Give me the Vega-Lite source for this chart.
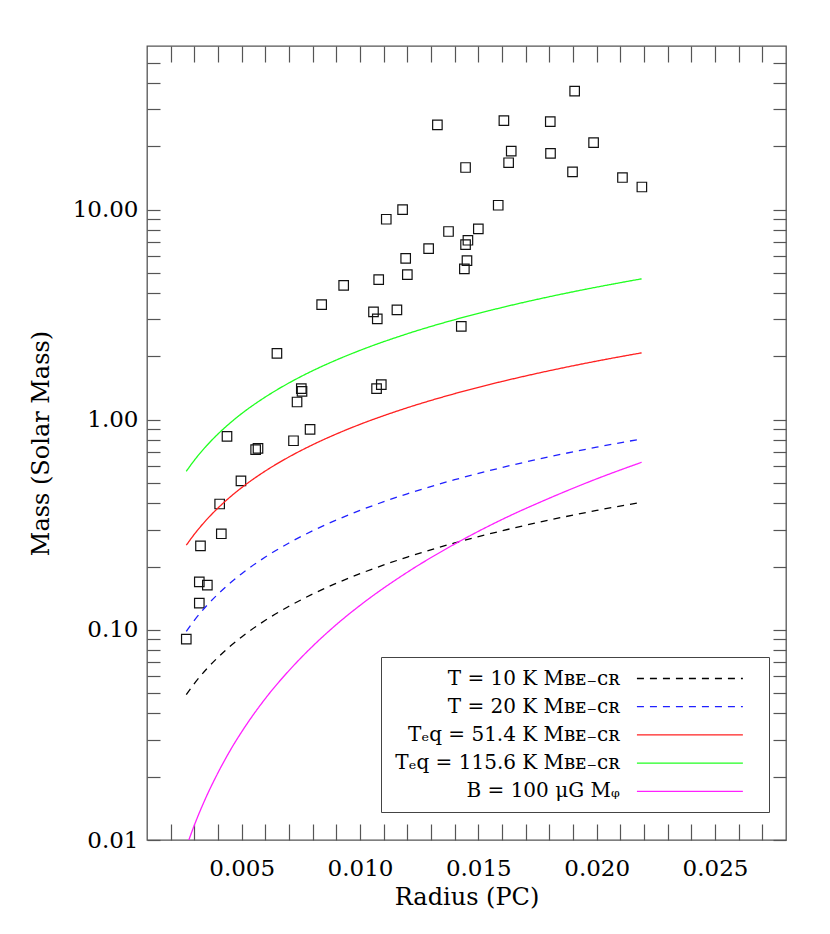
{
  "$schema": "https://vega.github.io/schema/vega-lite/v6.json",
  "width": 639,
  "height": 794,
  "autosize": {"type": "none"},
  "padding": {"left": 147, "top": 46, "right": 44, "bottom": 94},
  "background": "white",
  "config": {
    "font": "DejaVu Serif",
    "view": {"stroke": "#555555", "strokeWidth": 1.3},
    "axis": {"grid": false, "domain": false, "tickColor": "#555555", "tickWidth": 1.2, "labelColor": "#000000", "titleColor": "#000000", "labelFont": "DejaVu Serif", "titleFont": "DejaVu Serif", "titleFontWeight": "normal", "labelOverlap": false, "labelFlush": false}
  },
  "datasets": {
    "cores": [
      {"r": 0.01907, "m": 36.6}, {"r": 0.01327, "m": 25.3}, {"r": 0.01608, "m": 26.5}, {"r": 0.01804, "m": 26.2},
      {"r": 0.01987, "m": 20.8}, {"r": 0.01639, "m": 18.95}, {"r": 0.01805, "m": 18.5}, {"r": 0.01446, "m": 15.85},
      {"r": 0.01628, "m": 16.7}, {"r": 0.01898, "m": 15.1}, {"r": 0.02109, "m": 14.2}, {"r": 0.02191, "m": 12.8},
      {"r": 0.0118, "m": 10.0}, {"r": 0.01111, "m": 8.99}, {"r": 0.01584, "m": 10.48}, {"r": 0.01374, "m": 7.86},
      {"r": 0.015, "m": 8.09}, {"r": 0.01456, "m": 7.14}, {"r": 0.01446, "m": 6.81}, {"r": 0.0129, "m": 6.52},
      {"r": 0.01193, "m": 5.85}, {"r": 0.012, "m": 4.9}, {"r": 0.01452, "m": 5.71}, {"r": 0.01441, "m": 5.22},
      {"r": 0.01079, "m": 4.64}, {"r": 0.00931, "m": 4.36}, {"r": 0.00838, "m": 3.53}, {"r": 0.01057, "m": 3.26},
      {"r": 0.01073, "m": 3.02}, {"r": 0.01156, "m": 3.33}, {"r": 0.01428, "m": 2.78}, {"r": 0.00649, "m": 2.07},
      {"r": 0.00752, "m": 1.405}, {"r": 0.00755, "m": 1.364}, {"r": 0.00734, "m": 1.214}, {"r": 0.0109, "m": 1.468},
      {"r": 0.0107, "m": 1.405}, {"r": 0.00438, "m": 0.833}, {"r": 0.00789, "m": 0.899}, {"r": 0.00719, "m": 0.794},
      {"r": 0.00559, "m": 0.72}, {"r": 0.00569, "m": 0.73}, {"r": 0.00497, "m": 0.511}, {"r": 0.00407, "m": 0.397},
      {"r": 0.00414, "m": 0.2865}, {"r": 0.00326, "m": 0.251}, {"r": 0.00321, "m": 0.1693}, {"r": 0.00355, "m": 0.1633},
      {"r": 0.00321, "m": 0.134}, {"r": 0.00266, "m": 0.0903}
    ],
    "models": [
      {"s": "T = 10 K Mʙᴇ₋ᴄʀ", "r": 0.00266, "m": 0.0492}, {"s": "T = 10 K Mʙᴇ₋ᴄʀ", "r": 0.003, "m": 0.0555},
      {"s": "T = 10 K Mʙᴇ₋ᴄʀ", "r": 0.0035, "m": 0.0648}, {"s": "T = 10 K Mʙᴇ₋ᴄʀ", "r": 0.004, "m": 0.074},
      {"s": "T = 10 K Mʙᴇ₋ᴄʀ", "r": 0.0045, "m": 0.0833}, {"s": "T = 10 K Mʙᴇ₋ᴄʀ", "r": 0.005, "m": 0.0925},
      {"s": "T = 10 K Mʙᴇ₋ᴄʀ", "r": 0.006, "m": 0.111}, {"s": "T = 10 K Mʙᴇ₋ᴄʀ", "r": 0.007, "m": 0.1295},
      {"s": "T = 10 K Mʙᴇ₋ᴄʀ", "r": 0.008, "m": 0.148}, {"s": "T = 10 K Mʙᴇ₋ᴄʀ", "r": 0.009, "m": 0.1665},
      {"s": "T = 10 K Mʙᴇ₋ᴄʀ", "r": 0.01, "m": 0.185}, {"s": "T = 10 K Mʙᴇ₋ᴄʀ", "r": 0.012, "m": 0.222},
      {"s": "T = 10 K Mʙᴇ₋ᴄʀ", "r": 0.014, "m": 0.259}, {"s": "T = 10 K Mʙᴇ₋ᴄʀ", "r": 0.016, "m": 0.296},
      {"s": "T = 10 K Mʙᴇ₋ᴄʀ", "r": 0.018, "m": 0.333}, {"s": "T = 10 K Mʙᴇ₋ᴄʀ", "r": 0.02, "m": 0.37},
      {"s": "T = 10 K Mʙᴇ₋ᴄʀ", "r": 0.0219, "m": 0.405},
      {"s": "T = 20 K Mʙᴇ₋ᴄʀ", "r": 0.00266, "m": 0.0984}, {"s": "T = 20 K Mʙᴇ₋ᴄʀ", "r": 0.003, "m": 0.111},
      {"s": "T = 20 K Mʙᴇ₋ᴄʀ", "r": 0.0035, "m": 0.1295}, {"s": "T = 20 K Mʙᴇ₋ᴄʀ", "r": 0.004, "m": 0.148},
      {"s": "T = 20 K Mʙᴇ₋ᴄʀ", "r": 0.0045, "m": 0.1665}, {"s": "T = 20 K Mʙᴇ₋ᴄʀ", "r": 0.005, "m": 0.185},
      {"s": "T = 20 K Mʙᴇ₋ᴄʀ", "r": 0.006, "m": 0.222}, {"s": "T = 20 K Mʙᴇ₋ᴄʀ", "r": 0.007, "m": 0.259},
      {"s": "T = 20 K Mʙᴇ₋ᴄʀ", "r": 0.008, "m": 0.296}, {"s": "T = 20 K Mʙᴇ₋ᴄʀ", "r": 0.009, "m": 0.333},
      {"s": "T = 20 K Mʙᴇ₋ᴄʀ", "r": 0.01, "m": 0.37}, {"s": "T = 20 K Mʙᴇ₋ᴄʀ", "r": 0.012, "m": 0.444},
      {"s": "T = 20 K Mʙᴇ₋ᴄʀ", "r": 0.014, "m": 0.518}, {"s": "T = 20 K Mʙᴇ₋ᴄʀ", "r": 0.016, "m": 0.592},
      {"s": "T = 20 K Mʙᴇ₋ᴄʀ", "r": 0.018, "m": 0.666}, {"s": "T = 20 K Mʙᴇ₋ᴄʀ", "r": 0.02, "m": 0.74},
      {"s": "T = 20 K Mʙᴇ₋ᴄʀ", "r": 0.0219, "m": 0.81},
      {"s": "Tₑq = 51.4 K Mʙᴇ₋ᴄʀ", "r": 0.00266, "m": 0.2527}, {"s": "Tₑq = 51.4 K Mʙᴇ₋ᴄʀ", "r": 0.003, "m": 0.285},
      {"s": "Tₑq = 51.4 K Mʙᴇ₋ᴄʀ", "r": 0.0035, "m": 0.3325}, {"s": "Tₑq = 51.4 K Mʙᴇ₋ᴄʀ", "r": 0.004, "m": 0.38},
      {"s": "Tₑq = 51.4 K Mʙᴇ₋ᴄʀ", "r": 0.0045, "m": 0.4275}, {"s": "Tₑq = 51.4 K Mʙᴇ₋ᴄʀ", "r": 0.005, "m": 0.475},
      {"s": "Tₑq = 51.4 K Mʙᴇ₋ᴄʀ", "r": 0.006, "m": 0.57}, {"s": "Tₑq = 51.4 K Mʙᴇ₋ᴄʀ", "r": 0.007, "m": 0.665},
      {"s": "Tₑq = 51.4 K Mʙᴇ₋ᴄʀ", "r": 0.008, "m": 0.76}, {"s": "Tₑq = 51.4 K Mʙᴇ₋ᴄʀ", "r": 0.009, "m": 0.855},
      {"s": "Tₑq = 51.4 K Mʙᴇ₋ᴄʀ", "r": 0.01, "m": 0.95}, {"s": "Tₑq = 51.4 K Mʙᴇ₋ᴄʀ", "r": 0.012, "m": 1.14},
      {"s": "Tₑq = 51.4 K Mʙᴇ₋ᴄʀ", "r": 0.014, "m": 1.33}, {"s": "Tₑq = 51.4 K Mʙᴇ₋ᴄʀ", "r": 0.016, "m": 1.52},
      {"s": "Tₑq = 51.4 K Mʙᴇ₋ᴄʀ", "r": 0.018, "m": 1.71}, {"s": "Tₑq = 51.4 K Mʙᴇ₋ᴄʀ", "r": 0.02, "m": 1.9},
      {"s": "Tₑq = 51.4 K Mʙᴇ₋ᴄʀ", "r": 0.0219, "m": 2.08},
      {"s": "Tₑq = 115.6 K Mʙᴇ₋ᴄʀ", "r": 0.00266, "m": 0.568}, {"s": "Tₑq = 115.6 K Mʙᴇ₋ᴄʀ", "r": 0.003, "m": 0.641},
      {"s": "Tₑq = 115.6 K Mʙᴇ₋ᴄʀ", "r": 0.0035, "m": 0.748}, {"s": "Tₑq = 115.6 K Mʙᴇ₋ᴄʀ", "r": 0.004, "m": 0.855},
      {"s": "Tₑq = 115.6 K Mʙᴇ₋ᴄʀ", "r": 0.0045, "m": 0.962}, {"s": "Tₑq = 115.6 K Mʙᴇ₋ᴄʀ", "r": 0.005, "m": 1.069},
      {"s": "Tₑq = 115.6 K Mʙᴇ₋ᴄʀ", "r": 0.006, "m": 1.282}, {"s": "Tₑq = 115.6 K Mʙᴇ₋ᴄʀ", "r": 0.007, "m": 1.496},
      {"s": "Tₑq = 115.6 K Mʙᴇ₋ᴄʀ", "r": 0.008, "m": 1.71}, {"s": "Tₑq = 115.6 K Mʙᴇ₋ᴄʀ", "r": 0.009, "m": 1.923},
      {"s": "Tₑq = 115.6 K Mʙᴇ₋ᴄʀ", "r": 0.01, "m": 2.137}, {"s": "Tₑq = 115.6 K Mʙᴇ₋ᴄʀ", "r": 0.012, "m": 2.564},
      {"s": "Tₑq = 115.6 K Mʙᴇ₋ᴄʀ", "r": 0.014, "m": 2.992}, {"s": "Tₑq = 115.6 K Mʙᴇ₋ᴄʀ", "r": 0.016, "m": 3.419},
      {"s": "Tₑq = 115.6 K Mʙᴇ₋ᴄʀ", "r": 0.018, "m": 3.847}, {"s": "Tₑq = 115.6 K Mʙᴇ₋ᴄʀ", "r": 0.02, "m": 4.274},
      {"s": "Tₑq = 115.6 K Mʙᴇ₋ᴄʀ", "r": 0.0219, "m": 4.68},
      {"s": "B = 100 μG  Mᵩ", "r": 0.00266, "m": 0.00925}, {"s": "B = 100 μG  Mᵩ", "r": 0.003, "m": 0.01176},
      {"s": "B = 100 μG  Mᵩ", "r": 0.0035, "m": 0.01601}, {"s": "B = 100 μG  Mᵩ", "r": 0.004, "m": 0.0209},
      {"s": "B = 100 μG  Mᵩ", "r": 0.0045, "m": 0.0265}, {"s": "B = 100 μG  Mᵩ", "r": 0.005, "m": 0.0327},
      {"s": "B = 100 μG  Mᵩ", "r": 0.006, "m": 0.0471}, {"s": "B = 100 μG  Mᵩ", "r": 0.007, "m": 0.064},
      {"s": "B = 100 μG  Mᵩ", "r": 0.008, "m": 0.0836}, {"s": "B = 100 μG  Mᵩ", "r": 0.009, "m": 0.1059},
      {"s": "B = 100 μG  Mᵩ", "r": 0.01, "m": 0.1307}, {"s": "B = 100 μG  Mᵩ", "r": 0.012, "m": 0.188},
      {"s": "B = 100 μG  Mᵩ", "r": 0.014, "m": 0.256}, {"s": "B = 100 μG  Mᵩ", "r": 0.016, "m": 0.335},
      {"s": "B = 100 μG  Mᵩ", "r": 0.018, "m": 0.423}, {"s": "B = 100 μG  Mᵩ", "r": 0.02, "m": 0.523},
      {"s": "B = 100 μG  Mᵩ", "r": 0.0219, "m": 0.627}
    ]
  },
  "layer": [
    {
      "data": {"name": "cores"},
      "mark": {"type": "point", "shape": "square", "filled": false, "size": 90, "stroke": "#111111", "strokeWidth": 1.2, "opacity": 1},
      "encoding": {
        "x": {
          "field": "r", "type": "quantitative",
          "scale": {"domain": [0.001, 0.028], "nice": false, "zero": false},
          "axis": {
            "orient": "bottom",
            "values": [0.002,0.003,0.004,0.005,0.006,0.007,0.008,0.009,0.01,0.011,0.012,0.013,0.014,0.015,0.016,0.017,0.018,0.019,0.02,0.021,0.022,0.023,0.024,0.025,0.026,0.027],
            "labelExpr": "indexof([0.005,0.01,0.015,0.02,0.025], datum.value) >= 0 ? format(datum.value, '.3f') : ''",
            "tickSize": -16,
            "labelPadding": 51,
            "labelBaseline": "alphabetic",
            "labelFont": "DejaVu Serif",
            "labelFontSize": 23,
            "title": "Radius (PC)",
            "titleFont": "DejaVu Serif",
            "titleFontSize": 24,
            "titleX": 319.5,
            "titleY": 64,
            "titleAlign": "center",
            "titleBaseline": "alphabetic",
            "encode": {"ticks": {"update": {"y2": {"signal": "indexof([0.005,0.01,0.015,0.02,0.025], datum.value) >= 0 ? -16 : -8"}}}}
          }
        },
        "y": {
          "field": "m", "type": "quantitative",
          "scale": {"type": "log", "domain": [0.01, 60], "nice": false},
          "axis": {
            "orient": "left",
            "values": [0.01,0.02,0.03,0.04,0.05,0.06,0.07,0.08,0.09,0.1,0.2,0.3,0.4,0.5,0.6,0.7,0.8,0.9,1,2,3,4,5,6,7,8,9,10,20,30,40,50],
            "labelExpr": "indexof([0.01,0.1,1,10], datum.value) >= 0 ? format(datum.value, '.2f') : ''",
            "tickSize": -13,
            "labelPadding": 22,
            "labelFont": "DejaVu Serif",
            "labelFontSize": 23,
            "title": "Mass (Solar Mass)",
            "titleFont": "DejaVu Serif",
            "titleFontSize": 24,
            "titleX": -106,
            "titleY": 397,
            "titleAngle": -90,
            "titleAlign": "center",
            "titleBaseline": "middle",
            "encode": {"ticks": {"update": {"x2": {"signal": "indexof([0.01,0.1,1,10], datum.value) >= 0 ? 13 : 7"}}}}
          }
        }
      }
    },
    {
      "data": {"name": "models"},
      "mark": {"type": "line", "strokeWidth": 1.3, "clip": true, "interpolate": "monotone"},
      "encoding": {
        "x": {
          "field": "r", "type": "quantitative",
          "axis": {
            "orient": "top",
            "values": [0.002,0.003,0.004,0.005,0.006,0.007,0.008,0.009,0.01,0.011,0.012,0.013,0.014,0.015,0.016,0.017,0.018,0.019,0.02,0.021,0.022,0.023,0.024,0.025,0.026,0.027],
            "labels": false,
            "title": null,
            "tickSize": -16,
            "encode": {"ticks": {"update": {"y2": {"signal": "indexof([0.005,0.01,0.015,0.02,0.025], datum.value) >= 0 ? 16 : 8"}}}}
          }
        },
        "y": {
          "field": "m", "type": "quantitative",
          "axis": {
            "orient": "right",
            "values": [0.01,0.02,0.03,0.04,0.05,0.06,0.07,0.08,0.09,0.1,0.2,0.3,0.4,0.5,0.6,0.7,0.8,0.9,1,2,3,4,5,6,7,8,9,10,20,30,40,50],
            "labels": false,
            "title": null,
            "tickSize": -13,
            "encode": {"ticks": {"update": {"x2": {"signal": "indexof([0.01,0.1,1,10], datum.value) >= 0 ? -13 : -7"}}}}
          }
        },
        "color": {
          "field": "s", "type": "nominal",
          "scale": {
            "domain": ["T = 10 K Mʙᴇ₋ᴄʀ", "T = 20 K Mʙᴇ₋ᴄʀ", "Tₑq = 51.4 K Mʙᴇ₋ᴄʀ", "Tₑq = 115.6 K Mʙᴇ₋ᴄʀ", "B = 100 μG  Mᵩ"],
            "range": ["#000000", "#2020ff", "#ff2020", "#20ff20", "#ff20ff"]
          },
          "legend": {
            "title": null,
            "orient": "none",
            "legendX": 234,
            "legendY": 611,
            "direction": "vertical",
            "padding": 10,
            "strokeColor": "#444444",
            "fillColor": "white",
            "symbolType": "M-5,0H5M6.2,0",
            "symbolSize": 449,
            "symbolOffset": 287.4,
            "symbolStrokeWidth": 1.3,
            "labelAlign": "right",
            "labelOffset": -81.6,
            "labelFont": "DejaVu Serif",
            "labelFontSize": 20,
            "labelColor": "#000000",
            "labelLimit": 500,
            "rowPadding": 6.2
          }
        },
        "strokeDash": {
          "field": "s", "type": "nominal",
          "scale": {
            "domain": ["T = 10 K Mʙᴇ₋ᴄʀ", "T = 20 K Mʙᴇ₋ᴄʀ", "Tₑq = 51.4 K Mʙᴇ₋ᴄʀ", "Tₑq = 115.6 K Mʙᴇ₋ᴄʀ", "B = 100 μG  Mᵩ"],
            "range": [[7, 6], [7, 6], [1, 0], [1, 0], [1, 0]]
          }
        }
      }
    }
  ],
  "resolve": {"axis": {"x": "independent", "y": "independent"}}
}
